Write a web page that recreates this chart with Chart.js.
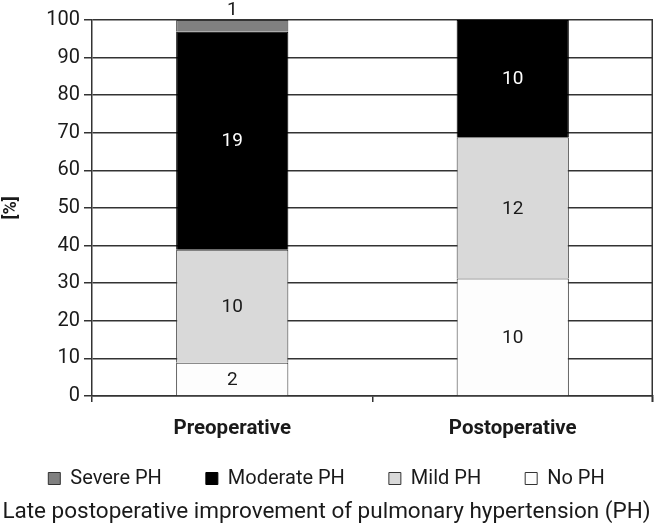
<!DOCTYPE html>
<html>
<head>
<meta charset="utf-8">
<script src="https://cdn.jsdelivr.net/npm/chart.js@4/dist/chart.umd.min.js"></script>
<style>
  html, body { margin: 0; padding: 0; background: #fff; }
  #wrap { width: 654px; height: 530px; }
</style>
</head>
<body>
<div id="wrap"><canvas id="phChart"></canvas></div>
<script>
// categories and values (percent), counts shown as labels
const categories = ['Preoperative', 'Postoperative'];
const seriesNames = ['No PH', 'Mild PH', 'Moderate PH', 'Severe PH'];
const noPh = [8.8, 31.2];
const mildPh = [30.1, 37.6];
const moderatePh = [58.0, 31.2];
const severePh = [3.1, 0];
const noPhCounts = ['2', '10'];
const mildPhCounts = ['10', '12'];
const moderatePhCounts = ['19', '10'];
const severePhCounts = ['1', ''];
const yTicks = [0, 10, 20, 30, 40, 50, 60, 70, 80, 90, 100];

const FONT = "Roboto, 'DejaVu Sans', sans-serif";
const EDGE = '#333';
const TEXT = '#1a1a1a';
const X_SQUEEZE = 32; // legend overlaps the empty bottom of the x axis box

// draws the count inside each segment (or just above it if it's too thin)
const countLabels = {
  id: 'countLabels',
  afterLayout(chart) {
    // give the x labels their full box back so they are not clipped
    chart.scales.x.bottom += X_SQUEEZE;
  },
  afterDatasetsDraw(chart) {
    const ctx = chart.ctx;
    ctx.save();
    ctx.font = '19px ' + FONT;
    ctx.textAlign = 'center';
    ctx.textBaseline = 'middle';
    chart.data.datasets.forEach((ds, i) => {
      const meta = chart.getDatasetMeta(i);
      meta.data.forEach((bar, j) => {
        const txt = ds.counts[j];
        if (!txt) return;
        const h = Math.abs(bar.base - bar.y);
        if (h < 22) {
          ctx.fillStyle = TEXT;
          ctx.fillText(txt, bar.x, bar.y - 10);
        } else {
          ctx.fillStyle = ds.labelColor;
          ctx.fillText(txt, bar.x, (bar.y + bar.base) / 2 + 1);
        }
      });
    });
    // right frame line
    const a = chart.chartArea;
    ctx.strokeStyle = EDGE;
    ctx.lineWidth = 1.5;
    ctx.beginPath();
    ctx.moveTo(a.right - 0.75, a.top);
    ctx.lineTo(a.right - 0.75, a.bottom + 6);
    ctx.stroke();
    ctx.restore();
  }
};

const ctx = document.getElementById('phChart').getContext('2d');
new Chart(ctx, {
  type: 'bar',
  data: {
    labels: categories,
    datasets: [
      { label: seriesNames[0], data: noPh, counts: noPhCounts, labelColor: TEXT,
        backgroundColor: '#fdfdfd', borderColor: EDGE, borderWidth: 1 },
      { label: seriesNames[1], data: mildPh, counts: mildPhCounts, labelColor: TEXT,
        backgroundColor: '#d9d9d9', borderColor: EDGE, borderWidth: 1 },
      { label: seriesNames[2], data: moderatePh, counts: moderatePhCounts, labelColor: '#fff',
        backgroundColor: '#000000', borderColor: '#000', borderWidth: 1 },
      { label: seriesNames[3], data: severePh, counts: severePhCounts, labelColor: TEXT,
        backgroundColor: '#808080', borderColor: EDGE, borderWidth: 1 }
    ]
  },
  options: {
    responsive: true,
    maintainAspectRatio: false,
    animation: false,
    layout: { padding: { top: 20, right: 1, left: 0, bottom: 0 } },
    datasets: { bar: { categoryPercentage: 0.4, barPercentage: 1 } },
    plugins: {
      legend: {
        position: 'bottom',
        reverse: true,
        labels: {
          color: TEXT,
          font: { family: FONT, size: 20 },
          boxWidth: 12,
          boxHeight: 12,
          padding: 44
        }
      },
      title: {
        display: true,
        position: 'bottom',
        text: 'Late postoperative improvement of pulmonary hypertension (PH)',
        color: TEXT,
        font: { family: FONT, size: 22.5, weight: 'normal' },
        padding: { top: 0, bottom: 4.5 }
      },
      tooltip: { enabled: false }
    },
    scales: {
      x: {
        stacked: true,
        afterFit: scale => { scale.height -= X_SQUEEZE; },
        grid: { display: true, drawOnChartArea: false, offset: true, tickLength: 6, color: EDGE, lineWidth: 1.5 },
        border: { display: true, color: EDGE, width: 1.5 },
        ticks: { color: TEXT, font: { family: FONT, size: 20.5, weight: 'bold' }, padding: 15 }
      },
      y: {
        stacked: true,
        min: 0,
        max: 100,
        afterBuildTicks: axis => { axis.ticks = yTicks.map(v => ({ value: v })); },
        afterFit: scale => { scale.width = 92; },
        grid: { color: EDGE, lineWidth: 1.5, tickLength: 8 },
        border: { display: true, color: EDGE, width: 1.5 },
        ticks: { color: TEXT, font: { family: FONT, size: 20 }, padding: 4 },
        title: {
          display: true,
          text: '[%]',
          color: TEXT,
          font: { family: FONT, size: 18, weight: 'bold' },
          padding: { top: 1, bottom: 0 }
        }
      }
    }
  },
  plugins: [countLabels]
});
</script>
</body>
</html>
